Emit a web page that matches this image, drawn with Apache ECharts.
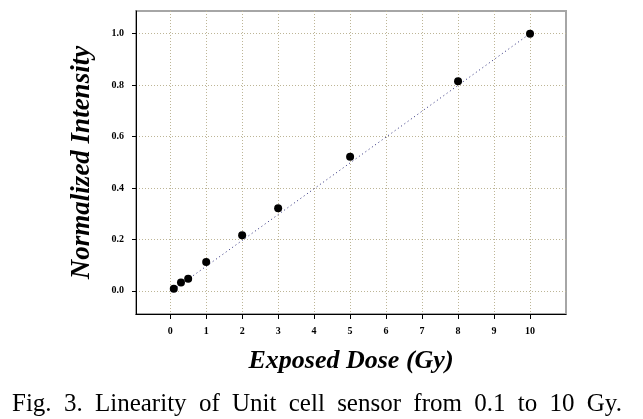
<!DOCTYPE html>
<html>
<head>
<meta charset="utf-8">
<script src="https://cdn.jsdelivr.net/npm/echarts@6/dist/echarts.min.js"></script>
<style>
  html, body { margin: 0; padding: 0; background: #fff; }
  #chart { width: 643px; height: 419px; }
</style>
</head>
<body>
<div id="chart"></div>
<script>
  // 数据
  var doseValues = [0.1, 0.3, 0.5, 1, 2, 3, 5, 8, 10];
  var intensityValues = [0.008, 0.032, 0.047, 0.112, 0.216, 0.321, 0.521, 0.815, 1.0];
  // 拟合线两端
  var fitX = [0.1, 10];
  var fitY = [0.005, 1.0];
  var xTicks = [0, 1, 2, 3, 4, 5, 6, 7, 8, 9, 10];
  var yTicks = [0, 0.2, 0.4, 0.6, 0.8, 1.0];
  var caption = 'Fig. 3. Linearity of Unit cell sensor from 0.1 to 10 Gy.';

  var serif = '"Liberation Serif", "Times New Roman", serif';

  var points = doseValues.map(function (x, i) { return [x, intensityValues[i]]; });
  var fitLine = fitX.map(function (x, i) { return [x, fitY[i]]; });

  // 图注两端对齐
  var words = caption.split(' ');
  var ctx = document.createElement('canvas').getContext('2d');
  var capFont = '25px ' + serif;
  ctx.font = capFont;
  var widths = words.map(function (w) { return ctx.measureText(w).width; });
  var total = widths.reduce(function (a, b) { return a + b; }, 0);
  var capLeft = 12, capRight = 622;
  var gap = (capRight - capLeft - total) / (words.length - 1);
  var graphic = [];
  var cx = capLeft;
  words.forEach(function (w, i) {
    graphic.push({
      type: 'text',
      left: cx,
      top: 392,
      style: { text: w, font: capFont, fill: '#000' }
    });
    cx += widths[i] + gap;
  });

  var gridColor = '#bdb596';

  var myChart = echarts.init(document.getElementById('chart'));
  myChart.setOption({
    animation: false,
    backgroundColor: '#fff',
    grid: {
      left: 136,
      right: 77,
      top: 11,
      bottom: 105,
      show: true,
      borderColor: '#a6a6a6',
      borderWidth: 2,
      backgroundColor: '#fff'
    },
    xAxis: {
      type: 'value',
      min: -0.95,
      max: 11,
      name: 'Exposed Dose (Gy)',
      nameLocation: 'middle',
      nameGap: 34,
      nameTextStyle: { fontFamily: serif, fontSize: 26, fontWeight: 'bold', fontStyle: 'italic', color: '#000' },
      axisLine: { show: true, onZero: false, lineStyle: { color: '#000', width: 1 } },
      axisTick: { show: true, length: 5, customValues: xTicks, lineStyle: { color: '#000' } },
      axisLabel: {
        customValues: xTicks,
        margin: 12,
        fontFamily: serif,
        fontSize: 10,
        fontWeight: 'bold',
        color: '#000'
      },
      splitLine: { show: true, lineStyle: { color: gridColor, type: [1, 2], width: 1 } }
    },
    yAxis: {
      type: 'value',
      min: -0.09,
      max: 1.088,
      name: 'Normalized Intensity',
      nameLocation: 'middle',
      nameGap: 40,
      nameTextStyle: { fontFamily: serif, fontSize: 27, fontWeight: 'bold', fontStyle: 'italic', color: '#000' },
      axisLine: { show: true, onZero: false, lineStyle: { color: '#000', width: 1 } },
      axisTick: { show: true, length: 4, customValues: yTicks, lineStyle: { color: '#000' } },
      axisLabel: {
        customValues: yTicks,
        margin: 12,
        fontFamily: serif,
        fontSize: 10,
        fontWeight: 'bold',
        color: '#000',
        formatter: function (v) { return v.toFixed(1); }
      },
      splitLine: { show: true, lineStyle: { color: gridColor, type: [1, 2], width: 1 } }
    },
    graphic: graphic,
    series: [
      {
        type: 'line',
        data: fitLine,
        symbol: 'none',
        lineStyle: { color: '#2a2a7a', width: 1, type: [1, 3] },
        z: 2
      },
      {
        type: 'scatter',
        data: points,
        symbol: 'circle',
        symbolSize: 8,
        itemStyle: { color: '#000', opacity: 1 },
        z: 3
      }
    ]
  });
</script>
</body>
</html>
